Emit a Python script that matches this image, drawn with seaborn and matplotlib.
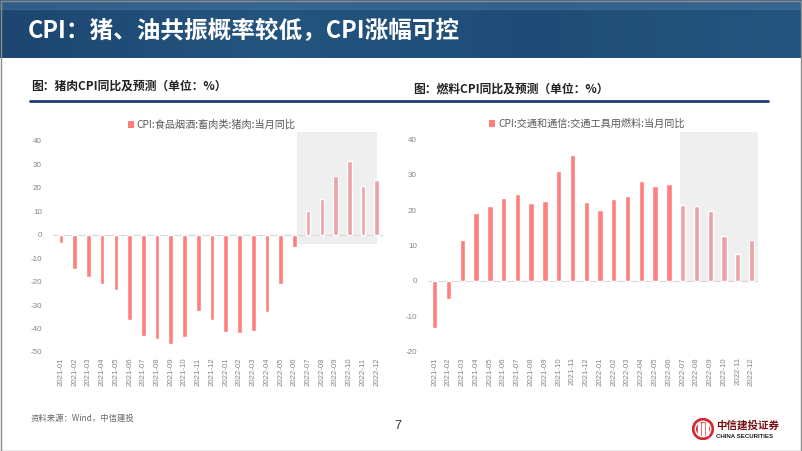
import numpy as np
import pandas as pd
import seaborn as sns
import matplotlib
matplotlib.use("Agg")
import matplotlib.pyplot as plt
from matplotlib.patches import Rectangle, Patch, Circle

# ---------------- data ----------------
months = ["2021-01", "2021-02", "2021-03", "2021-04", "2021-05", "2021-06",
          "2021-07", "2021-08", "2021-09", "2021-10", "2021-11", "2021-12",
          "2022-01", "2022-02", "2022-03", "2022-04", "2022-05", "2022-06",
          "2022-07", "2022-08", "2022-09", "2022-10", "2022-11", "2022-12"]
pork_yoy = [-3.5, -14.5, -18.2, -21.0, -23.5, -36.2, -43.1, -44.5, -46.7, -43.7,
            -32.5, -36.3, -41.3, -42.1, -41.1, -32.9, -20.9, -5.2,
            10.2, 15.3, 25.1, 31.5, 20.6, 23.5]
fuel_yoy = [-13.3, -5.1, 11.5, 19.3, 21.2, 23.5, 24.6, 22.0, 22.7, 31.2,
            35.5, 22.4, 20.1, 23.3, 24.0, 28.3, 26.9, 27.5,
            21.5, 21.2, 19.9, 12.6, 7.5, 11.5]
is_forecast = [m >= "2022-07" for m in months]
pork_label = "CPI:食品烟酒:畜肉类:猪肉:当月同比"
fuel_label = "CPI:交通和通信:交通工具用燃料:当月同比"
pork_yticks = [40, 30, 20, 10, 0, -10, -20, -30, -40, -50]
fuel_yticks = [40, 30, 20, 10, 0, -10, -20]

title = "CPI：猪、油共振概率较低，CPI涨幅可控"
sub_left = "图：猪肉CPI同比及预测（单位：%）"
sub_right = "图：燃料CPI同比及预测（单位：%）"
source = "资料来源：Wind，中信建投"

# ---------------- style ----------------
sns.set_theme(style="white")
CJK = ["Noto Sans CJK SC", "DejaVu Sans"]
plt.rcParams["font.family"] = CJK

W, H = 802, 451
fig = plt.figure(figsize=(W / 100, H / 100), dpi=100)
fig.patch.set_facecolor("white")

def px_axes(left, top, right, bottom, **kw):
    return fig.add_axes([left / W, 1 - bottom / H, (right - left) / W, (bottom - top) / H], **kw)

# banner
bax = px_axes(0, 0, W, 58)
grad = np.linspace(0, 1, 200)[None, :]
bax.imshow(grad, aspect="auto", cmap=matplotlib.colors.LinearSegmentedColormap.from_list(
    "b", ["#1c4670", "#24557f", "#1e4c76", "#25557e"]), extent=[0, 1, 0, 1])
bax.add_patch(Rectangle((0, 0.85), 1, 0.15, color="#4a7aa4", alpha=0.45, transform=bax.transAxes))
bax.set_axis_off()
fig.text(28 / W, 1 - 31 / H, title, color="white", fontsize=17, fontweight="bold",
         va="center", ha="left", family=CJK)

# subtitles and rule
fig.text(31 / W, 1 - 86 / H, sub_left, fontsize=8.5, fontweight="bold", color="#222222",
         va="center", ha="left", family=CJK)
fig.text(413 / W, 1 - 89 / H, sub_right, fontsize=8.5, fontweight="bold", color="#222222",
         va="center", ha="left", family=CJK)
fig.add_artist(plt.Line2D([30 / W, 768 / W], [1 - 101 / H, 1 - 101 / H], color="#1f3d73", lw=2))

ACT = "#FF7E7E"
FC = "#EAA2A6"
SHADE = "#EFEFEF"
TICKC = "#858585"

def draw_chart(ax, values, label, yticks, ylim, xlim, shade, bar_w, leg_center):
    df = pd.DataFrame({"month": months, "value": values,
                       "kind": ["预测" if f else "实际" for f in is_forecast]})
    ax.add_patch(Rectangle((shade[0], shade[2]), shade[1] - shade[0], shade[3] - shade[2],
                           facecolor=SHADE, edgecolor="none", zorder=0))
    sns.barplot(data=df, x="month", y="value", hue="kind", palette={"实际": ACT, "预测": FC},
                dodge=False, width=bar_w, legend=False, ax=ax, zorder=2, saturation=1)
    ax.axhline(0, color="#d9d9d9", lw=0.8, zorder=1)
    ax.set_xlim(*xlim)
    ax.set_ylim(*ylim)
    ax.set_yticks(yticks)
    ax.set_yticklabels([str(t) for t in yticks])
    ax.set_xlabel("")
    ax.set_ylabel("")
    for s in ax.spines.values():
        s.set_visible(False)
    ax.tick_params(axis="x", length=0, pad=4, labelsize=5.6, labelcolor=TICKC, rotation=90)
    ax.tick_params(axis="y", length=0, pad=8, labelsize=5.8, labelcolor=TICKC)
    for t in ax.get_xticklabels() + ax.get_yticklabels():
        t.set_family("Liberation Sans")
    ax.set_facecolor("none")
    h = Patch(facecolor=ACT, edgecolor="none")
    fig.legend([h], [label], loc="center", bbox_to_anchor=(leg_center[0] / W, 1 - leg_center[1] / H),
               frameon=False, handlelength=0.55, handleheight=0.55, handletextpad=0.3,
               prop={"family": CJK, "size": 7.3}, labelcolor="#595959")

axL = px_axes(53, 131.6, 383, 352)
draw_chart(axL, pork_yoy, pork_label, pork_yticks, (-50, 44), (-0.58, 23.45),
           (17.2, 23.0, -4, 44), 0.34, (212, 125))

axR = px_axes(428, 131.7, 758, 351.7)
draw_chart(axR, fuel_yoy, fuel_label, fuel_yticks, (-20, 42.2), (-0.49, 23.47),
           (17.8, 23.45, 0, 42.2), 0.39, (587, 124))

# footer
fig.text(31 / W, 1 - 418 / H, source, fontsize=6, style="italic", color="#666666",
         va="center", ha="left", family=CJK)
fig.text(398 / W, 1 - 426 / H, "7", fontsize=9, color="#333333", va="center", ha="center",
         family="Liberation Sans")
lax = px_axes(692, 418, 714, 440)
lax.set_xlim(-1, 1); lax.set_ylim(-1, 1); lax.set_aspect("equal"); lax.set_axis_off()
lax.add_patch(Circle((0, 0), 0.95, color="#d7282f"))
for dx in (-0.35, 0, 0.35):
    lax.add_patch(Rectangle((dx - 0.07, -0.55), 0.14, 1.1, color="white"))
lax.add_patch(Circle((0, 0), 0.7, fill=False, ec="white", lw=1))
fig.text(716 / W, 1 - 426 / H, "中信建投证券", fontsize=7.6, fontweight="bold", color="#7a1016",
         va="center", ha="left", family=CJK)
fig.text(716 / W, 1 - 437 / H, "CHINA SECURITIES", fontsize=4.4, fontweight="bold", color="#222222",
         va="center", ha="left", family="Liberation Sans")

# slide border
fig.add_artist(Rectangle((0.5 / W, 0.5 / H), (W - 1.5) / W, (H - 1.5) / H, fill=False,
                         ec="#8c8c8c", lw=1.0, transform=fig.transFigure))

fig.savefig("out.png", dpi=100)
